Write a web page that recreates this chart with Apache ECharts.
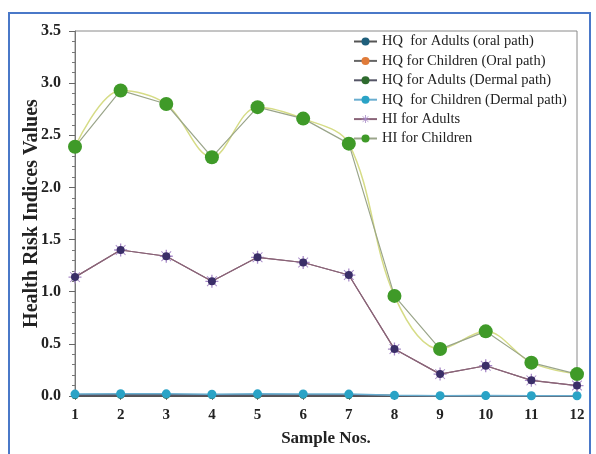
<!DOCTYPE html>
<html><head><meta charset="utf-8">
<script src="https://cdn.jsdelivr.net/npm/echarts@6/dist/echarts.min.js"></script>
<style>html,body{margin:0;padding:0;background:#fff}#c{width:596px;height:454px}</style>
</head><body><div id="c"></div>
<script>
const samples = ['1','2','3','4','5','6','7','8','9','10','11','12'];
const hqAdultsOral = [0.005,0.006,0.006,0.005,0.006,0.006,0.005,0.002,0.001,0.001,0.001,0.001];
const hqChildrenOral = [0.012,0.014,0.013,0.011,0.013,0.013,0.012,0.004,0.002,0.002,0.001,0.001];
const hqAdultsDermal = [0.008,0.010,0.009,0.008,0.009,0.009,0.008,0.003,0.001,0.002,0.001,0.001];
const hqChildrenDermal = [0.018,0.022,0.021,0.017,0.021,0.020,0.018,0.006,0.003,0.004,0.002,0.002];
const hiAdults = [1.14,1.40,1.34,1.10,1.33,1.28,1.16,0.45,0.21,0.29,0.15,0.10];
const hiChildren = [2.39,2.93,2.80,2.29,2.77,2.66,2.42,0.96,0.45,0.62,0.32,0.21];
const yTicks = [0,0.5,1.0,1.5,2.0,2.5,3.0,3.5];
const names = ['HQ  for Adults (oral path)','HQ for Children (Oral path)','HQ for Adults (Dermal path)','HQ  for Children (Dermal path)','HI for Adults','HI for Children'];

const serif = '"Liberation Serif","Times New Roman",serif';
const star = 'path://M-1,-10 L1,-10 L1,-2 L7,-8 L8,-7 L2,-1 L10,-1 L10,1 L2,1 L8,7 L7,8 L1,2 L1,10 L-1,10 L-1,2 L-7,8 L-8,7 L-2,1 L-10,1 L-10,-1 L-2,-1 L-8,-7 L-7,-8 L-1,-2 Z';

const chart = echarts.init(document.getElementById('c'));
chart.setOption({
  animation: false,
  grid: {left: 75, right: 19, top: 31, bottom: 58, show: true, borderColor: '#8a8a8a', borderWidth: 1},
  graphic: [
    {type: 'polyline', shape: {points: [[9, 454], [9, 13], [590, 13], [590, 454]]}, style: {stroke: '#4a78c8', lineWidth: 2, fill: null}, z: 0}
  ],
  legend: {
    orient: 'vertical', left: 348, top: 29, itemGap: 4.4, itemWidth: 23, itemHeight: 10,
    data: names,
    textStyle: {fontFamily: serif, fontSize: 14.5, color: '#222', lineHeight: 14}
  },
  xAxis: {
    type: 'category', data: samples, boundaryGap: false,
    name: 'Sample Nos.', nameLocation: 'middle', nameGap: 34,
    nameTextStyle: {fontFamily: serif, fontSize: 17, fontWeight: 'bold', color: '#222'},
    axisLine: {lineStyle: {color: '#555', width: 2}},
    axisTick: {show: true, length: 4, lineStyle: {color: '#777'}},
    axisLabel: {fontFamily: serif, fontSize: 15, fontWeight: 'bold', color: '#222', margin: 12},
    splitLine: {show: false}
  },
  yAxis: {
    type: 'value', min: 0, max: 3.5, interval: 0.5,
    name: 'Health Risk Indices Values', nameLocation: 'middle', nameGap: 33, nameMoveOverlap: false,
    nameTextStyle: {fontFamily: serif, fontSize: 20, fontWeight: 'bold', color: '#222'},
    axisLine: {show: true, lineStyle: {color: '#777'}},
    axisTick: {show: true, length: 6, lineStyle: {color: '#666'}},
    minorTick: {show: true, splitNumber: 5, length: 3, lineStyle: {color: '#777'}},
    axisLabel: {fontFamily: serif, fontSize: 16, fontWeight: 'bold', color: '#222', margin: 14,
      formatter: v => yTicks.includes(v) ? v.toFixed(1) : ''},
    splitLine: {show: false}
  },
  series: [
    {name: names[0], type: 'line', data: hqAdultsOral, symbol: 'circle', symbolSize: 7,
      itemStyle: {color: '#1e5f7c'}, lineStyle: {color: '#555', width: 2}, z: 3},
    {name: names[1], type: 'line', data: hqChildrenOral, symbol: 'circle', symbolSize: 7,
      itemStyle: {color: '#e07b39'}, lineStyle: {color: '#666', width: 1.5}, z: 3},
    {name: names[2], type: 'line', data: hqAdultsDermal, symbol: 'circle', symbolSize: 7,
      itemStyle: {color: '#2e6b2e'}, lineStyle: {color: '#556', width: 1.5}, z: 3},
    {name: names[3], type: 'line', data: hqChildrenDermal, symbol: 'circle', symbolSize: 9,
      itemStyle: {color: '#2aa3c6'}, lineStyle: {color: '#6aaed0', width: 1.5}, z: 4},
    {name: 'hiAdultsDots', type: 'line', data: hiAdults, symbol: 'circle', symbolSize: 8,
      itemStyle: {color: '#3a2e68'}, lineStyle: {color: '#8a6478', width: 1.2}, z: 5},
    {name: names[4], type: 'line', data: hiAdults, symbol: star, symbolSize: 13,
      itemStyle: {color: '#a88ac8'}, lineStyle: {color: '#8a6478', width: 1.2}, z: 4},
    {name: 'hiChildrenSmooth', type: 'line', data: hiChildren, smooth: 0.35, symbol: 'none',
      lineStyle: {color: '#d6dc86', width: 1.5}, z: 4},
    {name: names[5], type: 'line', data: hiChildren, symbol: 'circle', symbolSize: 14,
      itemStyle: {color: '#3f9a28'}, lineStyle: {color: '#9aa58a', width: 1.2}, z: 6}
  ]
});
</script></body></html>
